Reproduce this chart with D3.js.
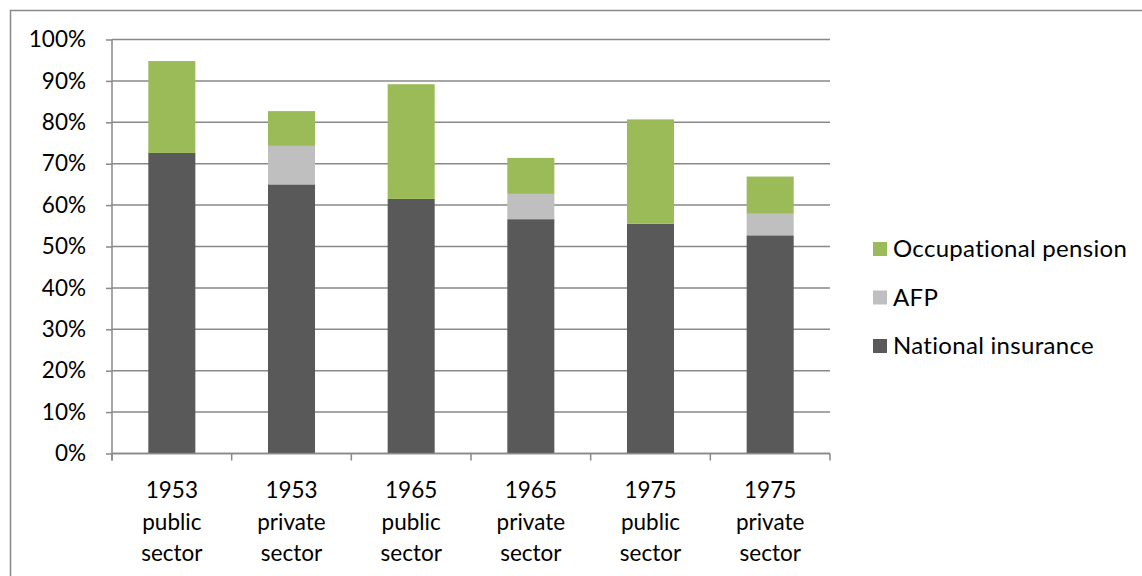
<!DOCTYPE html>
<html>
<head>
<meta charset="utf-8">
<script src="https://cdn.jsdelivr.net/npm/d3@7"></script>
<style>
  html, body { margin: 0; padding: 0; background: #fff; }
  svg { display: block; }
  text { font-family: Lato, "Open Sans", sans-serif; fill: #000; }
</style>
</head>
<body>
<svg id="chart" width="1142" height="576"></svg>
<script>
// ---- data ----
const categories = [
  ["1953", "public", "sector"],
  ["1953", "private", "sector"],
  ["1965", "public", "sector"],
  ["1965", "private", "sector"],
  ["1975", "public", "sector"],
  ["1975", "private", "sector"]
];
const seriesNames = ["National insurance", "AFP", "Occupational pension"];
const nationalInsurance = [72.6, 65.0, 61.5, 56.6, 55.5, 52.7];
const afp = [0, 9.3, 0, 6.1, 0, 5.2];
const occupationalPension = [22.2, 8.4, 27.7, 8.7, 25.2, 9.0];
const yTicks = [0, 10, 20, 30, 40, 50, 60, 70, 80, 90, 100];
const colors = ["#595959", "#BFBFBF", "#9BBB59"];

// ---- layout ----
const svg = d3.select("#chart");
const plotLeft = 112, plotRight = 830, plotTop = 39.5, plotBottom = 453.5;
const gridColor = "#898989";

// outer border
svg.append("rect").attr("x", 10.5).attr("y", 10.5).attr("width", 1200).attr("height", 700)
  .attr("fill", "none").attr("stroke", gridColor).attr("stroke-width", 1.5);

const keys = categories.map((c, i) => i);
const x = d3.scaleBand().domain(keys).range([plotLeft, plotRight]).paddingInner(0.607).paddingOuter(0.3035);
const xEdge = d3.scaleLinear().domain([0, categories.length]).range([plotLeft, plotRight]);
const y = d3.scaleLinear().domain([0, 100]).range([plotBottom, plotTop]);

// gridlines + y ticks
const yAxis = d3.axisLeft(y).tickValues(yTicks).tickSize(6).tickFormat(d => d + "%");
const gy = svg.append("g").attr("transform", `translate(${plotLeft},0)`).call(yAxis);
gy.select(".domain").remove();
gy.selectAll(".tick line").attr("stroke", gridColor).attr("stroke-width", 1.5);
gy.selectAll(".tick text").attr("x", -26).style("font-size", "22.5px").style("font-family", "Lato, 'Open Sans', sans-serif").attr("fill", "#000");

svg.append("g").selectAll("line").data(yTicks).join("line")
  .attr("x1", plotLeft).attr("x2", plotRight)
  .attr("y1", d => y(d)).attr("y2", d => y(d))
  .attr("stroke", gridColor).attr("stroke-width", 1.5);

// y axis line
svg.append("line").attr("x1", plotLeft).attr("x2", plotLeft).attr("y1", plotTop).attr("y2", plotBottom + 7)
  .attr("stroke", gridColor).attr("stroke-width", 1.5);

// stacked bars
const rows = keys.map(i => ({
  idx: i,
  "National insurance": nationalInsurance[i],
  "AFP": afp[i],
  "Occupational pension": occupationalPension[i]
}));
const stack = d3.stack().keys(seriesNames)(rows);
svg.append("g").selectAll("g").data(stack).join("g")
  .attr("fill", (d, i) => colors[i])
  .selectAll("rect").data(d => d.filter(s => s[1] - s[0] > 0)).join("rect")
  .attr("x", d => x(d.data.idx))
  .attr("width", x.bandwidth())
  .attr("y", d => y(d[1]))
  .attr("height", d => y(d[0]) - y(d[1]));

// x axis line and ticks at band edges
svg.append("line").attr("x1", plotLeft).attr("x2", plotRight).attr("y1", plotBottom).attr("y2", plotBottom)
  .attr("stroke", gridColor).attr("stroke-width", 1.5);
svg.append("g").selectAll("line").data(d3.range(categories.length + 1)).join("line")
  .attr("x1", d => xEdge(d)).attr("x2", d => xEdge(d))
  .attr("y1", plotBottom).attr("y2", plotBottom + 7)
  .attr("stroke", gridColor).attr("stroke-width", 1.5);

// x labels
const lab = svg.append("g").selectAll("text").data(categories).join("text")
  .attr("text-anchor", "middle")
  .style("font-size", "22.5px")
  .attr("transform", (d, i) => `translate(${x(i) + x.bandwidth() / 2},0)`);
lab.selectAll("tspan").data(d => d).join("tspan")
  .attr("x", 0)
  .attr("y", (d, j) => 498 + j * 31.7)
  .text(d => d);

// legend
const legendItems = [
  { name: "Occupational pension", color: colors[2] },
  { name: "AFP", color: colors[1] },
  { name: "National insurance", color: colors[0] }
];
const lg = svg.append("g").selectAll("g").data(legendItems).join("g")
  .attr("transform", (d, i) => `translate(873,${249 + i * 48.5})`);
lg.append("rect").attr("x", 0).attr("y", -7).attr("width", 14).attr("height", 14).attr("fill", d => d.color);
lg.append("text").attr("x", 20).attr("y", 0).attr("dy", "0.35em")
  .style("font-size", "24px").style("letter-spacing", "0.3px").text(d => d.name);
</script>
</body>
</html>
